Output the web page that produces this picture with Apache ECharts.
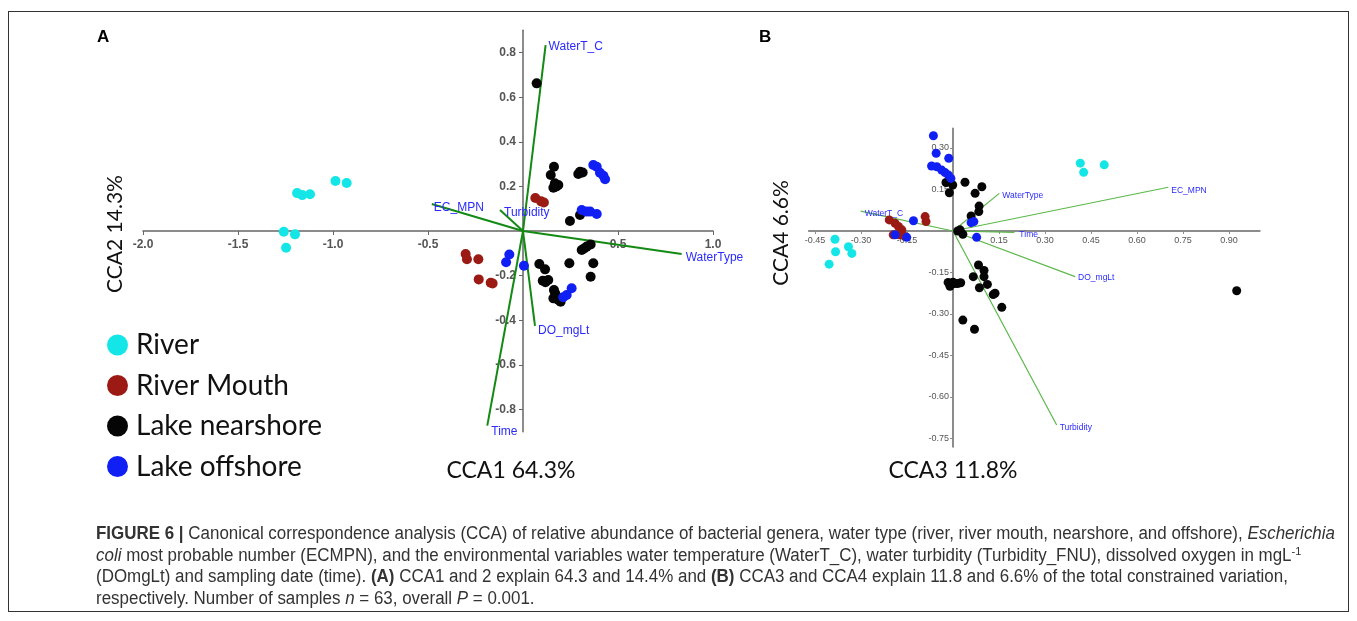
<!DOCTYPE html>
<html>
<head>
<meta charset="utf-8">
<script src="https://cdn.jsdelivr.net/npm/echarts@6/dist/echarts.min.js"></script>
<style>
  html, body { margin: 0; padding: 0; background: #fff; }
  #wrap { position: relative; width: 1357px; height: 621px; overflow: hidden; }
  #chart { position: absolute; left: 0; top: 0; width: 1357px; height: 621px; }
  #frame { position: absolute; left: 8px; top: 11px; width: 1341px; height: 601px; border: 1px solid #333; box-sizing: border-box; pointer-events: none; }
  #caption { position: absolute; left: 96px; top: 523px; font-family: "Liberation Sans", Arial, sans-serif; font-size: 18px; color: #333; }
  #caption div { white-space: nowrap; height: 21.7px; line-height: 21.7px; transform-origin: 0 50%; }
  #caption sup { font-size: 0.65em; vertical-align: 0.55em; line-height: 0; }
</style>
</head>
<body>
<div id="wrap">
  <div id="chart"></div>
  <div id="frame"></div>
  <div id="caption">
    <div id="capLine1"><b>FIGURE 6 |</b> Canonical correspondence analysis (CCA) of relative abundance of bacterial genera, water type (river, river mouth, nearshore, and offshore), <i>Escherichia</i></div>
    <div><i>coli</i> most probable number (ECMPN), and the environmental variables water temperature (WaterT_C), water turbidity (Turbidity_FNU), dissolved oxygen in mgL<sup>-1</sup></div>
    <div>(DOmgLt) and sampling date (time). <b>(A)</b> CCA1 and 2 explain 64.3 and 14.4% and <b>(B)</b> CCA3 and CCA4 explain 11.8 and 6.6% of the total constrained variation,</div>
    <div>respectively. Number of samples <i>n</i> = 63, overall <i>P</i> = 0.001.</div>
  </div>
</div>
<script>
// ---------------- DATA ----------------
const groupNames = ['River', 'River Mouth', 'Lake nearshore', 'Lake offshore'];

// Panel A (CCA1 vs CCA2)
const aRiver = [[-0.987,0.224],[-0.928,0.215],[-1.189,0.170],[-1.162,0.161],[-1.121,0.165],[-1.259,-0.003],[-1.200,-0.015],[-1.247,-0.075]];
const aRiverMouth = [[-0.302,-0.103],[-0.295,-0.127],[-0.235,-0.127],[-0.233,-0.217],[-0.170,-0.232],[-0.160,-0.235],[0.065,0.148],[0.095,0.133],[0.110,0.128]];
const aNearshore = [[0.072,0.662],
  [0.163,0.288],[0.146,0.251],[0.168,0.214],[0.186,0.206],[0.160,0.194],[0.176,0.200],
  [0.300,0.266],[0.314,0.262],[0.291,0.256],
  [0.300,0.072],[0.247,0.045],
  [0.309,-0.085],[0.335,-0.070],[0.356,-0.060],[0.322,-0.078],
  [0.244,-0.145],[0.370,-0.145],[0.356,-0.205],
  [0.086,-0.148],[0.116,-0.172],[0.104,-0.223],[0.133,-0.220],[0.118,-0.230],
  [0.163,-0.265],[0.160,-0.302],[0.186,-0.309],[0.198,-0.317],[0.175,-0.295],[0.170,-0.280],[0.190,-0.300]];
const aOffshore = [[0.370,0.296],[0.388,0.288],[0.405,0.261],[0.423,0.248],[0.432,0.232],
  [0.309,0.094],[0.335,0.087],[0.353,0.087],[0.388,0.076],
  [-0.072,-0.105],[-0.089,-0.140],[0.005,-0.156],
  [0.256,-0.257],[0.230,-0.287],[0.212,-0.297]];

// Panel B (CCA3 vs CCA4)
const bRiver = [[-0.385,-0.030],[-0.383,-0.075],[-0.341,-0.057],[-0.330,-0.081],[-0.404,-0.120],[0.415,0.245],[0.426,0.212],[0.493,0.239]];
const bRiverMouth = [[-0.208,0.040],[-0.189,0.028],[-0.178,0.016],[-0.195,-0.014],[-0.175,-0.014],[-0.157,-0.020],[-0.167,0.004],[-0.091,0.052],[-0.088,0.034]];
const bNearshore = [[-0.023,0.175],[-0.001,0.166],[-0.012,0.138],[0.039,0.176],[0.094,0.160],[0.072,0.136],[0.085,0.090],[0.084,0.070],[0.059,0.054],[0.023,0.004],[0.032,-0.012],[0.015,0.000],
  [0.083,-0.123],[0.101,-0.143],[0.101,-0.165],[0.066,-0.165],[0.112,-0.193],[0.086,-0.205],[0.137,-0.225],[0.131,-0.230],[0.159,-0.276],[0.032,-0.322],[0.070,-0.355],
  [-0.016,-0.186],[-0.005,-0.190],[0.005,-0.190],[0.015,-0.190],[0.025,-0.187],[-0.010,-0.200],[0.000,-0.185],
  [0.925,-0.216]];
const bOffshore = [[-0.064,0.344],[-0.055,0.281],[-0.014,0.263],[-0.070,0.235],[-0.053,0.232],[-0.037,0.220],[-0.026,0.211],[-0.015,0.202],[-0.007,0.190],
  [-0.129,0.037],[-0.189,-0.014],[-0.151,-0.023],[0.059,0.030],[0.068,0.034],[0.077,-0.023]];

// Environmental vectors
const vectorNamesA = ['WaterT_C', 'EC_MPN', 'Turbidity', 'WaterType', 'DO_mgLt', 'Time'];
const vectorsA = [[0.119,0.834],[-0.480,0.121],[-0.121,0.094],[0.835,-0.103],[0.063,-0.426],[-0.188,-0.873]];
const vectorNamesB = ['WaterType', 'EC_MPN', 'Time', 'DO_mgLt', 'Turbidity', 'WaterT_C'];
const vectorsB = [[0.151,0.136],[0.702,0.158],[0.200,-0.005],[0.398,-0.165],[0.338,-0.701],[-0.301,0.072]];

// Tick labels
const aXTicks = [-2.0, -1.5, -1.0, -0.5, 0.5, 1.0];
const aYTicks = [-0.8, -0.6, -0.4, -0.2, 0.2, 0.4, 0.6, 0.8];
const bXTicks = [-0.45, -0.30, -0.15, 0.15, 0.30, 0.45, 0.60, 0.75, 0.90];
const bYTicks = [-0.75, -0.60, -0.45, -0.30, -0.15, 0.15, 0.30];

// Axis ranges
const aXRange = [-2.0, 1.0], aYRange = [-0.9, 0.9];
const bXRange = [-0.47, 1.0], bYRange = [-0.78, 0.37];

// ---------------- LAYOUT / STYLE ----------------
const gridA = { left: 143, top: 30.3, width: 570, height: 401.4 };
const gridB = { left: 808.9, top: 128.6, width: 450.8, height: 318.2 };
const groupColors = ['#14e6e8', '#9b1a14', '#050505', '#1020f5'];
const labelOffsetsA = [[3,2],[2,4],[4,3],[4,4],[3,5],[4,6]];
const labelOffsetsB = [[3,2],[3,3],[5,2],[3,1],[3,3],[4,3]];

// offsets that place each axis on the other axis' zero (through the library's own axis offset)
function zeroOffsetY(grid, xr) { return -grid.width * (0 - xr[0]) / (xr[1] - xr[0]); }
function zeroOffsetX(grid, yr) { return -grid.height * (0 - yr[0]) / (yr[1] - yr[0]); }

const chart = echarts.init(document.getElementById('chart'), null, { renderer: 'canvas' });

function scatterSeries(name, data, gi, size, colorIdx) {
  return {
    name: name, type: 'scatter', xAxisIndex: gi, yAxisIndex: gi, data: data,
    symbol: 'circle', symbolSize: size, itemStyle: { color: groupColors[colorIdx], opacity: 1 },
    emphasis: { disabled: true }, z: 3, clip: false
  };
}

function vectorSeries(vecs, names, offs, gi, stroke, lw, font, color) {
  return {
    type: 'custom', xAxisIndex: gi, yAxisIndex: gi, data: vecs, z: 2, clip: false,
    renderItem: function (params, api) {
      const i = params.dataIndex;
      const p0 = api.coord([0, 0]);
      const p1 = api.coord([api.value(0), api.value(1)]);
      return {
        type: 'group',
        children: [
          { type: 'line', shape: { x1: p0[0], y1: p0[1], x2: p1[0], y2: p1[1] }, style: { stroke: stroke, lineWidth: lw } },
          { type: 'text', x: p1[0] + offs[i][0], y: p1[1] + offs[i][1],
            style: { text: names[i], fill: color, font: font, textAlign: 'left', textVerticalAlign: 'middle' } }
        ]
      };
    }
  };
}

const option = {
  animation: false,
  backgroundColor: '#fff',
  grid: [gridA, gridB],
  xAxis: [
    { type: 'value', gridIndex: 0, min: aXRange[0], max: aXRange[1], splitLine: { show: false },
      position: 'bottom', offset: zeroOffsetX(gridA, aYRange),
      axisLine: { onZero: false, lineStyle: { color: '#666', width: 1.5 } },
      axisTick: { customValues: aXTicks, length: 4, lineStyle: { color: '#666' } },
      axisLabel: { customValues: aXTicks, formatter: v => v.toFixed(1), color: '#555', fontSize: 12, fontWeight: 'bold', fontFamily: 'Arial', margin: 8 } },
    { type: 'value', gridIndex: 1, min: bXRange[0], max: bXRange[1], splitLine: { show: false },
      position: 'bottom', offset: zeroOffsetX(gridB, bYRange),
      axisLine: { onZero: false, lineStyle: { color: '#8c8c8c', width: 2 } },
      axisTick: { customValues: bXTicks, length: 3, lineStyle: { color: '#8c8c8c' } },
      axisLabel: { customValues: bXTicks, formatter: v => v.toFixed(2), color: '#555', fontSize: 9, fontFamily: 'Arial', margin: 5 } }
  ],
  yAxis: [
    { type: 'value', gridIndex: 0, min: aYRange[0], max: aYRange[1], splitLine: { show: false },
      position: 'left', offset: zeroOffsetY(gridA, aXRange),
      axisLine: { onZero: false, lineStyle: { color: '#666', width: 1.5 } },
      axisTick: { customValues: aYTicks, length: 4, lineStyle: { color: '#666' } },
      axisLabel: { customValues: aYTicks, formatter: v => v.toFixed(1), color: '#555', fontSize: 12, fontWeight: 'bold', fontFamily: 'Arial', margin: 7 } },
    { type: 'value', gridIndex: 1, min: bYRange[0], max: bYRange[1], splitLine: { show: false },
      position: 'left', offset: zeroOffsetY(gridB, bXRange),
      axisLine: { onZero: false, lineStyle: { color: '#8c8c8c', width: 2 } },
      axisTick: { customValues: bYTicks, length: 3, lineStyle: { color: '#8c8c8c' } },
      axisLabel: { customValues: bYTicks, formatter: v => v.toFixed(2), color: '#555', fontSize: 9, fontFamily: 'Arial', margin: 4 } }
  ],
  legend: {
    data: groupNames, orient: 'vertical', left: 102, top: 325, icon: 'circle',
    itemWidth: 21, itemHeight: 21, itemGap: 10.5, selectedMode: false,
    textStyle: { fontSize: 28, fontFamily: 'Lato', color: '#111', lineHeight: 30, padding: [0, 0, 0, 3] }
  },
  graphic: [
    { type: 'text', left: 97, top: 29, style: { text: 'A', font: 'bold 17px Arial', fill: '#000' } },
    { type: 'text', left: 759, top: 29, style: { text: 'B', font: 'bold 17px Arial', fill: '#000' } },
    { type: 'text', x: 115, y: 234, rotation: Math.PI / 2, style: { text: 'CCA2 14.3%', font: '21px Lato', fill: '#111', textAlign: 'center', textVerticalAlign: 'middle' } },
    { type: 'text', x: 511, y: 471, style: { text: 'CCA1 64.3%', font: '23px Lato', fill: '#111', textAlign: 'center', textVerticalAlign: 'middle' } },
    { type: 'text', x: 781, y: 233, rotation: Math.PI / 2, style: { text: 'CCA4 6.6%', font: '21px Lato', fill: '#111', textAlign: 'center', textVerticalAlign: 'middle' } },
    { type: 'text', x: 953, y: 471, style: { text: 'CCA3 11.8%', font: '23px Lato', fill: '#111', textAlign: 'center', textVerticalAlign: 'middle' } }
  ],
  series: [
    vectorSeries(vectorsA, vectorNamesA, labelOffsetsA, 0, '#138a13', 2, '12px Arial', '#2a2aff'),
    vectorSeries(vectorsB, vectorNamesB, labelOffsetsB, 1, '#5cb84a', 1.2, '8.5px Arial', '#2a2aff'),
    scatterSeries(groupNames[0], aRiver, 0, 10, 0),
    scatterSeries(groupNames[1], aRiverMouth, 0, 10, 1),
    scatterSeries(groupNames[2], aNearshore, 0, 10, 2),
    scatterSeries(groupNames[3], aOffshore, 0, 10, 3),
    scatterSeries(groupNames[0], bRiver, 1, 9, 0),
    scatterSeries(groupNames[1], bRiverMouth, 1, 9, 1),
    scatterSeries(groupNames[2], bNearshore, 1, 9, 2),
    scatterSeries(groupNames[3], bOffshore, 1, 9, 3)
  ]
};
chart.setOption(option);

// Condense caption lines horizontally so that line 1 spans the reference width
(function fitCaption() {
  const lines = document.querySelectorAll('#caption div');
  const l1 = document.getElementById('capLine1');
  l1.style.display = 'inline-block';
  const w = l1.getBoundingClientRect().width;
  l1.style.display = '';
  const s = 1239 / w;
  lines.forEach(d => { d.style.transform = 'scaleX(' + s.toFixed(4) + ')'; });
})();
</script>
</body>
</html>
